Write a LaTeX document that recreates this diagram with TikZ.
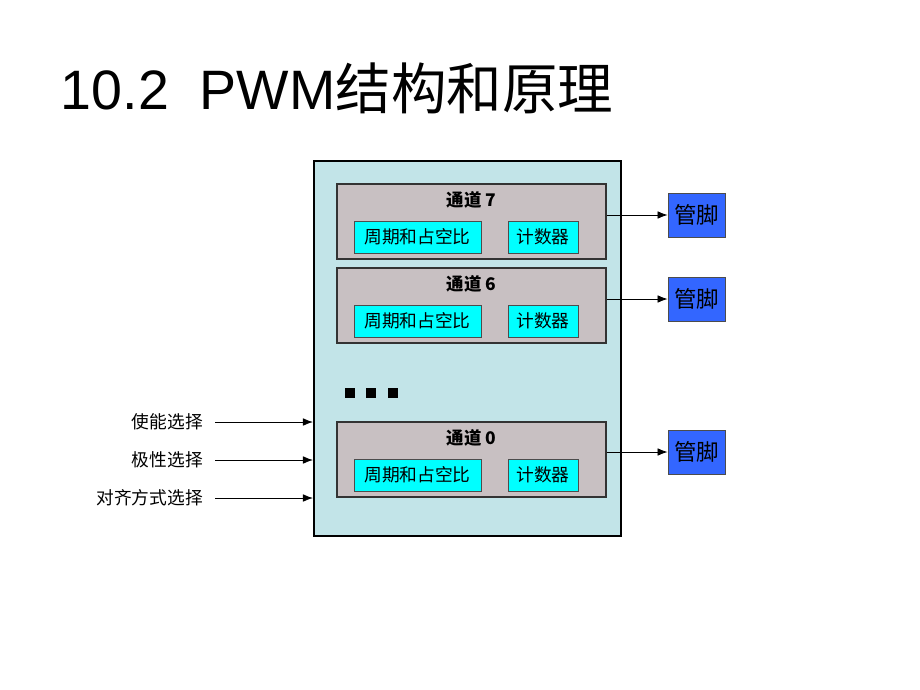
\documentclass[tikz,border=0pt]{standalone}
\usepackage{fontspec}
\setmainfont{Liberation Sans}
\newfontfamily\cjk{Noto Sans CJK SC}
\usetikzlibrary{arrows.meta,positioning}
\definecolor{boardblue}{RGB}{194,228,232}
\definecolor{chgrey}{RGB}{200,192,194}
\definecolor{partcyan}{RGB}{0,255,255}
\definecolor{pinblue}{RGB}{51,102,255}
\tikzset{every picture/.style={/utils/exec={\cjk}}}
\tikzset{board/.style={draw=black,line width=1.4pt,fill=boardblue,minimum width=7.675cm,minimum height=9.375cm}}
\tikzset{chan/.style={draw=black!80,line width=1.3pt,fill=chgrey,minimum width=6.725cm,minimum height=1.875cm}}
\tikzset{part/.style={draw=black!70,line width=0.6pt,fill=partcyan,minimum height=0.8cm,inner sep=0pt,font=\fontsize{12.6}{13}\selectfont}}
\tikzset{pin/.style={draw=black!70,line width=0.6pt,fill=pinblue,minimum width=1.425cm,minimum height=1.1cm,inner sep=0pt,font=\fontsize{16}{17}\selectfont}}
\tikzset{sig/.style={-{Latex[length=0.25cm,width=0.19cm]}, line width=0.6pt}}

\begin{document}
\begin{tikzpicture}[x=0.025cm,y=-0.025cm]
    \useasboundingbox (0,0) rectangle (920,690);
    \node [anchor=west,font=\fontsize{39.5}{44}\selectfont] (title) at (56,88) {\rmfamily 10.2\ \ PWM\cjk 结构和原理};
    \node [board] (board) at (467.5,348.5) {};
    \foreach \n/\y/\p in {7/221.5/215,6/305.5/299,0/459.5/452} {
        \node [chan] (ch\n) at (471.5,\y) {};
        \node [font=\fontsize{12.4}{13}\selectfont\bfseries] (lbl\n) at (471.5,\y-22) {通道 \n};
        \node [part,minimum width=3.175cm] (duty\n) at (417.5,\y+15.5) {周期和占空比};
        \node [part,minimum width=1.75cm] (cnt\n) at (543,\y+15.5) {计数器};
        \node [pin] (pin\n) at (696.5,\p) {管脚};
        \draw [sig] (pin\n.west -| ch\n.east) -- (pin\n.west);
    }
    \foreach \i/\x in {1/350,2/371,3/393}
        \node [fill=black,minimum size=0.25cm,inner sep=0pt] (dot\i) at (\x,393) {};
    \foreach \s/\t/\y in {en/使能选择/422,pol/极性选择/460,align/对齐方式选择/498} {
        \node [anchor=east,inner sep=0pt,font=\fontsize{12.6}{13}\selectfont] (\s) at (203,\y) {\t};
        \draw [sig] ([xshift=0.3cm]\s.east) -- (\s.east -| board.west);
    }
\end{tikzpicture}
\end{document}
